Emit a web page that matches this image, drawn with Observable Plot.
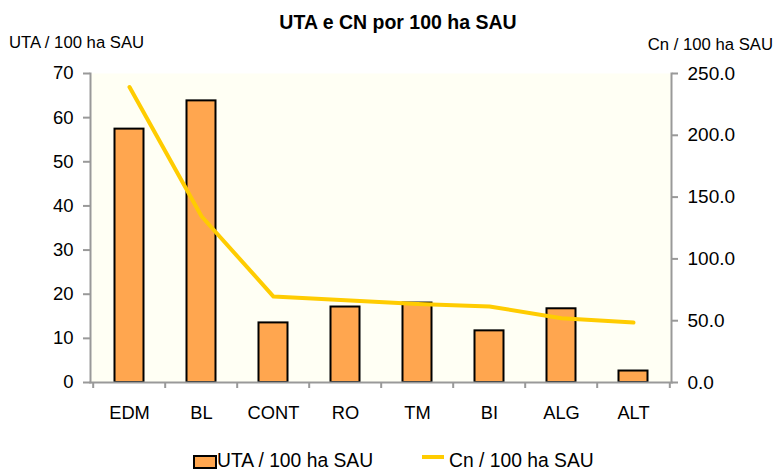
<!DOCTYPE html>
<html>
<head>
<meta charset="utf-8">
<script src="https://cdn.jsdelivr.net/npm/d3@7"></script>
<script src="https://cdn.jsdelivr.net/npm/@observablehq/plot@0.6"></script>
<style>
  body { margin: 0; background: #fff; font-family: "Liberation Sans", Arial, sans-serif; }
  #wrap { position: relative; width: 777px; height: 470px; overflow: hidden; }
  .t { position: absolute; white-space: nowrap; color: #000; }
  #title { top: 13px; left: 398px; transform: translateX(-50%); font-weight: bold; font-size: 19.5px; line-height: 19.5px; }
  #ylab { top: 35px; left: 9px; font-size: 16.7px; line-height: 16.7px; }
  #y2lab { top: 36.5px; right: 4px; font-size: 16.7px; line-height: 16.7px; }
  .lg { position: absolute; top: 451px; font-size: 19.3px; line-height: 19.3px; white-space: nowrap; }
  .sw { position: absolute; left: 193px; top: 455px; width: 24px; height: 14px; background: #FFA64F; border: 2px solid #000; box-sizing: border-box; }
  .ln { position: absolute; left: 422px; top: 455px; width: 22px; height: 4px; background: #FFCC00; }
  #chart svg { position: absolute; top: 0; left: 0; }
</style>
</head>
<body>
<div id="wrap">
  <div id="chart"></div>
  <div class="t" id="title">UTA e CN por 100 ha SAU</div>
  <div class="t" id="ylab">UTA / 100 ha SAU</div>
  <div class="t" id="y2lab">Cn / 100 ha SAU</div>
  <span class="sw"></span><span class="lg" style="left:217px">UTA / 100 ha SAU</span>
  <span class="ln"></span><span class="lg" style="left:449px">Cn / 100 ha SAU</span>
</div>
<script>
const categories = ["EDM", "BL", "CONT", "RO", "TM", "BI", "ALG", "ALT"];
const utaValues = [57.4, 63.8, 13.5, 17.1, 18.0, 11.7, 16.7, 2.6];
const cnValues = [239.0, 134.5, 69.5, 66.5, 63.5, 61.5, 52.0, 48.5];
const leftTicks = [0, 10, 20, 30, 40, 50, 60, 70];
const rightTicks = [0, 50, 100, 150, 200, 250];

const leftMax = 70, rightMax = 250;
const toLeft = v => v * leftMax / rightMax;

const data = categories.map((c, i) => ({cat: c, uta: utaValues[i], cn: cnValues[i]}));

const W = 777, H = 470, mL = 90, mR = 106, mT = 73, mB = 88;
const bw = (W - mL - mR) / categories.length;

const chart = Plot.plot({
  width: W, height: H,
  marginLeft: mL, marginRight: mR, marginTop: mT, marginBottom: mB,
  style: {fontFamily: "'Liberation Sans', Arial, sans-serif", background: "transparent", overflow: "visible"},
  x: {type: "band", domain: categories, padding: 0, axis: null},
  y: {domain: [0, leftMax], axis: null},
  marks: [
    Plot.frame({fill: "#FFFFF4", stroke: "none"}),
    Plot.barY(data, {x: "cat", y: "uta", fill: "#FFA64F", stroke: "#000", strokeWidth: 2, insetLeft: 21.5, insetRight: 21.5}),
    Plot.line(data, {x: "cat", y: d => toLeft(d.cn), stroke: "#FFCC00", strokeWidth: 4, curve: "linear", strokeLinejoin: "round"}),
    Plot.frame({anchor: "left", stroke: "#999", strokeWidth: 2}),
    Plot.frame({anchor: "right", stroke: "#999", strokeWidth: 2}),
    Plot.frame({anchor: "bottom", stroke: "#999", strokeWidth: 2}),
    Plot.axisY({ticks: leftTicks, tickSize: 7, tickPadding: 10, stroke: "#999", fill: "#000", fontSize: 18.5, strokeWidth: 2, label: null}),
    Plot.axisY({anchor: "right", ticks: rightTicks.map(toLeft), tickFormat: d => (d * rightMax / leftMax).toFixed(1), tickSize: 6, tickPadding: 10, stroke: "#999", fill: "#000", fontSize: 19, strokeWidth: 2, label: null}),
    Plot.axisX({tickSize: 0, tickPadding: 23, fill: "#000", fontSize: 18.3, label: null}),
    Plot.axisX({tickSize: 6, tickFormat: () => "", dx: -bw / 2, stroke: "#999", strokeWidth: 2, label: null}),
    Plot.axisX({ticks: [categories[categories.length - 1]], tickSize: 6, tickFormat: () => "", dx: bw / 2, stroke: "#999", strokeWidth: 2, label: null})
  ]
});
document.getElementById("chart").appendChild(chart);
</script>
</body>
</html>
